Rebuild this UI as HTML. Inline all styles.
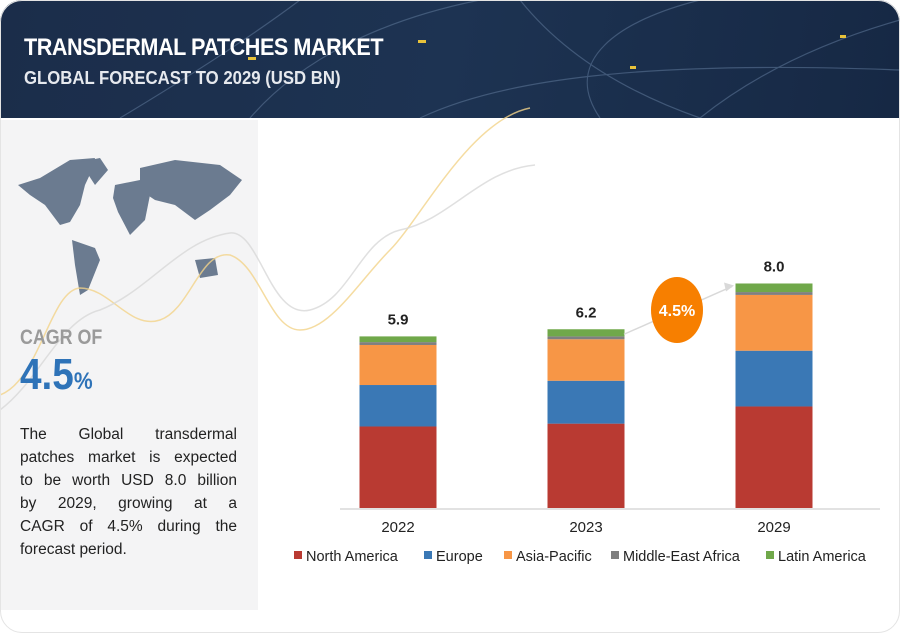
<!DOCTYPE html>
<html><head><meta charset="utf-8">
<style>
body{margin:0;width:900px;height:633px;background:#fff;font-family:"Liberation Sans",sans-serif;overflow:hidden;position:relative}
.hdr{position:absolute;left:0;top:0;width:900px;height:118px;border-radius:22px 22px 0 0;background:linear-gradient(100deg,#1b2d4a 0%,#1d3352 50%,#162844 100%);overflow:hidden}
.t1{position:absolute;left:24px;top:34px;color:#fff;font-weight:bold;font-size:24px;letter-spacing:-0.5px;transform:scaleX(0.9);transform-origin:left}
.t2{position:absolute;left:24px;top:68px;color:#e6e9ee;font-weight:bold;font-size:18px;transform:scaleX(0.93);transform-origin:left}
.left{position:absolute;left:0;top:120px;width:258px;height:490px;background:#f4f4f5}
.card{position:absolute;left:0;top:0;width:898px;height:631px;border:1px solid #e4e4e4;border-radius:22px;pointer-events:none}
.cagr{position:absolute;left:20px;top:326px;color:#9a9a9a;font-weight:bold;font-size:21px;transform:scaleX(0.85);transform-origin:left}
.big{position:absolute;left:20px;top:350px;color:#2e73b8;font-weight:bold;font-size:44px;transform:scaleX(0.88);transform-origin:left}
.big span{font-size:24px}
.desc{position:absolute;left:20px;top:423px;width:217px;font-size:15.5px;line-height:23px;color:#222}
.desc span{display:block;text-align:justify;text-align-last:justify;white-space:nowrap}
.desc span.last{text-align-last:left}
</style></head><body>
<div class="hdr">
<svg width="900" height="118" style="position:absolute;left:0;top:0">
<g fill="none" stroke="#5a7394" stroke-width="1.2" opacity="0.6">
<path d="M250 118 C300 60 380 20 480 0"/><path d="M600 118 C560 60 620 20 700 0"/>
<path d="M420 118 C500 80 640 60 900 70"/><path d="M700 118 C760 70 830 40 900 20"/>
<path d="M120 118 C200 70 260 30 300 0"/><path d="M520 0 C560 50 620 90 700 118"/>
</g>
<g fill="#e8c23a"><rect x="248" y="57" width="8" height="3"/><rect x="418" y="40" width="8" height="3"/><rect x="630" y="66" width="6" height="3"/><rect x="840" y="35" width="6" height="3"/></g>
</svg>
<div class="t1">TRANSDERMAL PATCHES MARKET</div>
<div class="t2">GLOBAL FORECAST TO 2029 (USD BN)</div>
</div>
<div class="left"></div>
<svg width="900" height="633" style="position:absolute;left:0;top:0">
<g fill="#6b7b90">
<path d="M18 185 L40 178 L70 160 L95 158 L92 170 L85 185 L80 205 L70 222 L60 225 L45 205 L30 195 Z"/>
<path d="M80 162 L100 158 L108 170 L95 185 Z"/>
<path d="M72 240 L95 248 L100 260 L88 290 L80 295 L75 265 Z"/>
<path d="M115 185 L140 180 L150 195 L145 220 L130 235 L118 212 L113 198 Z"/>
<path d="M140 168 L175 160 L220 165 L242 180 L230 195 L210 210 L195 220 L175 205 L155 200 L140 190 Z"/>
<path d="M195 260 L215 258 L218 275 L200 278 Z"/>
</g>
<path d="M0 395 C40 380 50 290 80 288 C110 288 130 330 160 320 C190 310 200 250 230 255 C260 265 270 330 300 330 C330 330 360 280 390 250 C420 220 470 120 530 108" fill="none" stroke="#f2d38a" stroke-width="1.5" opacity="0.8"/>
<path d="M0 410 C40 380 60 320 100 310 C150 290 180 240 230 233 C260 230 270 320 310 310 C350 300 360 240 400 230 C450 220 480 170 535 165" fill="none" stroke="#d8d8d8" stroke-width="1.5" opacity="0.8"/>
</svg>
<div class="card"></div>
<div class="cagr">CAGR OF</div>
<div class="big">4.5<span>%</span></div>
<div class="desc"><span>The Global transdermal</span><span>patches market is expected</span><span>to be worth USD 8.0 billion</span><span>by 2029, growing at a</span><span>CAGR of 4.5% during the</span><span class="last">forecast period.</span></div>
<svg id="chart" width="900" height="633" style="position:absolute;left:0;top:0"></svg>
<script>
const years=["2022","2023","2029"];
const totals=["5.9","6.2","8.0"];
const seriesNames=["North America","Europe","Asia-Pacific","Middle-East Africa","Latin America"];
const northAmerica=[2.85,2.95,3.55];
const europe=[1.45,1.5,1.95];
const asiaPacific=[1.4,1.45,1.95];
const mea=[0.1,0.1,0.1];
const latinAmerica=[0.2,0.25,0.3];
const colors=["#b93a32","#3a78b5","#f79646","#7f7f7f","#70a84a"];
const series=[northAmerica,europe,asiaPacific,mea,latinAmerica];
const svg=document.getElementById('chart');const NS="http://www.w3.org/2000/svg";
const base=508,scale=28.6,barW=77;
const xc=i=>[398,586,774][i];
const y=v=>base-v*scale;
function mk(t,a){const e=document.createElementNS(NS,t);for(const k in a)e.setAttribute(k,a[k]);svg.appendChild(e);return e;}
const ax=mk('line',{x1:340,x2:880,y1:base+1,y2:base+1,stroke:'#d9d9d9','stroke-width':1.5});


let tops=[];
years.forEach((yr,i)=>{let cum=0;
 series.forEach((s,j)=>{const r=mk('rect',{x:xc(i)-barW/2,y:y(cum+s[i]),width:barW,height:s[i]*scale,fill:colors[j]});
  
  
  cum+=s[i];});
 tops.push(y(cum));
 const tl=mk('text',{x:xc(i),y:y(cum)-12,'text-anchor':'middle','font-size':15,'font-weight':'bold',fill:'#222'});tl.textContent=totals[i];
 
 
 const xl=mk('text',{x:xc(i),y:532,'text-anchor':'middle','font-size':15,fill:'#222'});xl.textContent=yr;
 
 
});
const ar=mk('line',{x1:xc(1)+38,y1:tops[1]+5,x2:xc(2)-42,y2:tops[2]+3,stroke:'#d9d9d9','stroke-width':1.5});


const ah=mk('polygon',{points:`${xc(2)-40},${tops[2]+2} ${xc(2)-50},${tops[2]-1} ${xc(2)-48},${tops[2]+8}`,fill:'#d9d9d9'});


const el=mk('ellipse',{cx:677,cy:310,rx:26,ry:33,fill:'#f77f00'});


const et=mk('text',{x:677,y:316,'text-anchor':'middle','font-size':16,'font-weight':'bold',fill:'#fff'});et.textContent='4.5%';


const lx=[294,424,504,611,766];
seriesNames.forEach((n,j)=>{
 const r=mk('rect',{x:lx[j],y:551,width:8,height:8,fill:colors[j]});
 
 
 const t=mk('text',{x:lx[j]+12,y:561,'font-size':14.5,fill:'#222'});t.textContent=n;
 
 
});
</script>
</body></html>
